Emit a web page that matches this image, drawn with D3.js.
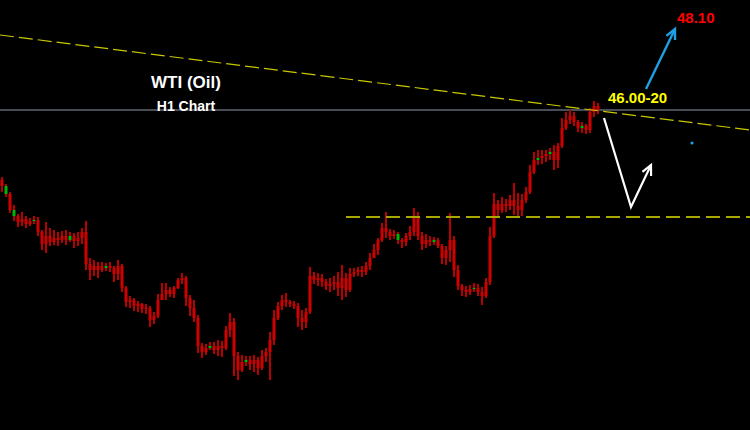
<!DOCTYPE html>
<html lang="en">
<head>
	<meta charset="utf-8" />
	<title>WTI (Oil) H1 Chart</title>
	<style>
		body { margin: 0; padding: 0; background: #000; }
		svg { display: block; }
	</style>
	<script src="https://d3js.org/d3.v7.min.js"></script>
</head>
<body>
	<div id="chart"></div>
	<script>
	// hourly candles
	const open = [
		44.60, 44.48, 44.32, 44.00, 43.88, 43.76, 43.82, 43.72, 43.78, 43.80,
		43.56, 43.32, 43.48, 43.36, 43.44, 43.40, 43.48, 43.40, 43.48, 43.38,
		43.44, 43.56, 42.92, 42.80, 42.88, 42.80, 42.88, 42.84, 42.84, 42.72,
		42.88, 42.44, 42.16, 42.20, 42.08, 42.12, 42.02, 42.04, 41.80, 41.88,
		42.20, 42.32, 42.40, 42.32, 42.44, 42.60, 42.64, 42.24, 42.04, 41.84,
		41.28, 41.16, 41.24, 41.28, 41.20, 41.28, 41.24, 41.60, 41.76, 41.08,
		40.80, 40.96, 41.00, 40.92, 41.00, 40.84, 41.08, 41.16, 41.40, 41.84,
		42.08, 42.20, 42.16, 42.12, 42.08, 41.84, 41.76, 41.96, 42.68, 42.60,
		42.64, 42.56, 42.48, 42.52, 42.56, 42.44, 42.64, 42.40, 42.72, 42.76,
		42.80, 42.76, 42.88, 43.04, 43.20, 43.40, 43.64, 43.56, 43.48, 43.52,
		43.40, 43.36, 43.48, 43.56, 43.88, 43.48, 43.32, 43.40, 43.36, 43.40,
		43.28, 43.04, 43.20, 43.40, 42.80, 42.48, 42.40, 42.36, 42.42, 42.44,
		42.36, 42.28, 42.56, 43.48, 44.12, 44.00, 44.12, 44.08, 44.20, 44.08,
		44.00, 44.20, 44.36, 44.76, 45.00, 45.04, 45.08, 45.12, 45.16, 45.00,
		45.28, 45.64, 45.80, 45.88, 45.76, 45.64, 45.68, 45.60, 45.96, 46.08
	];
	const high = [
		44.66, 44.52, 44.36, 44.10, 43.92, 43.96, 43.88, 43.84, 43.88, 43.86,
		43.60, 43.76, 43.64, 43.60, 43.56, 43.58, 43.60, 43.56, 43.54, 43.56,
		43.64, 43.78, 43.04, 43.00, 42.96, 42.96, 42.94, 42.96, 42.88, 43.00,
		42.92, 42.48, 42.28, 42.24, 42.18, 42.14, 42.12, 42.08, 41.96, 42.32,
		42.54, 42.54, 42.46, 42.48, 42.64, 42.74, 42.68, 42.30, 42.20, 41.90,
		41.34, 41.32, 41.36, 41.36, 41.40, 41.38, 41.68, 41.94, 41.84, 41.16,
		41.10, 41.08, 41.08, 41.10, 41.06, 41.20, 41.24, 41.56, 42.00, 42.16,
		42.30, 42.34, 42.20, 42.18, 42.14, 42.00, 42.04, 42.86, 42.76, 42.74,
		42.72, 42.62, 42.64, 42.68, 42.76, 42.90, 42.74, 42.84, 42.84, 42.86,
		42.88, 42.96, 43.14, 43.32, 43.44, 43.74, 43.96, 43.62, 43.60, 43.56,
		43.44, 43.54, 43.68, 44.04, 43.96, 43.56, 43.52, 43.48, 43.46, 43.44,
		43.32, 43.28, 43.94, 43.48, 42.90, 42.52, 42.48, 42.50, 42.54, 42.52,
		42.46, 42.64, 43.66, 44.34, 44.20, 44.26, 44.22, 44.30, 44.54, 44.34,
		44.32, 44.46, 44.90, 45.16, 45.20, 45.20, 45.20, 45.24, 45.30, 45.34,
		45.84, 45.96, 46.00, 45.96, 45.80, 45.76, 45.72, 46.04, 46.18, 46.14
	];
	const low = [
		44.36, 44.26, 43.94, 43.78, 43.66, 43.68, 43.64, 43.68, 43.72, 43.48,
		43.20, 43.14, 43.28, 43.30, 43.28, 43.34, 43.30, 43.36, 43.24, 43.28,
		43.32, 42.80, 42.60, 42.68, 42.64, 42.76, 42.78, 42.76, 42.56, 42.60,
		42.36, 42.06, 42.04, 41.98, 41.96, 41.94, 41.92, 41.66, 41.72, 41.84,
		42.20, 42.20, 42.26, 42.24, 42.42, 42.52, 42.08, 41.88, 41.76, 41.14,
		41.04, 41.10, 41.20, 41.12, 41.08, 41.06, 41.20, 41.46, 40.68, 40.60,
		40.76, 40.88, 40.80, 40.76, 40.70, 40.80, 40.96, 40.60, 41.30, 41.80,
		42.00, 42.06, 42.06, 42.02, 41.66, 41.60, 41.64, 41.92, 42.52, 42.48,
		42.46, 42.40, 42.36, 42.40, 42.28, 42.20, 42.26, 42.36, 42.66, 42.68,
		42.66, 42.70, 42.80, 43.08, 43.10, 43.36, 43.44, 43.40, 43.42, 43.32,
		43.24, 43.28, 43.40, 43.48, 43.40, 43.20, 43.24, 43.28, 43.30, 43.24,
		42.92, 42.90, 42.96, 42.66, 42.40, 42.28, 42.26, 42.30, 42.36, 42.28,
		42.10, 42.24, 42.50, 43.44, 43.86, 43.94, 43.96, 44.00, 43.90, 43.86,
		43.88, 44.14, 44.32, 44.72, 44.90, 44.92, 44.96, 45.00, 44.80, 44.84,
		45.24, 45.60, 45.72, 45.68, 45.56, 45.54, 45.52, 45.54, 45.86, 45.92
	];
	const close = [
		44.48, 44.32, 44.00, 43.88, 43.76, 43.82, 43.72, 43.78, 43.80, 43.56,
		43.32, 43.48, 43.36, 43.44, 43.40, 43.48, 43.40, 43.48, 43.38, 43.44,
		43.56, 42.92, 42.80, 42.88, 42.80, 42.88, 42.84, 42.88, 42.72, 42.88,
		42.44, 42.16, 42.20, 42.08, 42.12, 42.02, 42.04, 41.80, 41.88, 42.20,
		42.32, 42.40, 42.32, 42.44, 42.60, 42.64, 42.24, 42.04, 41.84, 41.28,
		41.16, 41.24, 41.28, 41.20, 41.28, 41.24, 41.60, 41.76, 41.08, 40.80,
		40.96, 41.00, 40.92, 41.00, 40.84, 41.08, 41.16, 41.40, 41.84, 42.08,
		42.20, 42.16, 42.12, 42.08, 41.84, 41.76, 41.96, 42.68, 42.60, 42.64,
		42.56, 42.48, 42.52, 42.56, 42.44, 42.64, 42.40, 42.72, 42.76, 42.80,
		42.76, 42.88, 43.04, 43.20, 43.40, 43.64, 43.56, 43.48, 43.52, 43.40,
		43.36, 43.48, 43.56, 43.88, 43.48, 43.32, 43.40, 43.36, 43.40, 43.28,
		43.04, 43.20, 43.40, 42.80, 42.48, 42.40, 42.36, 42.42, 42.44, 42.36,
		42.28, 42.56, 43.48, 44.12, 44.00, 44.12, 44.08, 44.20, 44.08, 44.00,
		44.20, 44.36, 44.76, 45.00, 45.04, 45.08, 45.12, 45.16, 45.00, 45.28,
		45.64, 45.80, 45.88, 45.76, 45.64, 45.68, 45.60, 45.96, 46.08, 46.00
	];
	// the few bars that show up green
	const greenBars = [1, 3, 8, 17, 26, 52, 61, 99, 108, 118, 134, 137, 145];

	// levels and drawings (bar index, price)
	const resistance = 46.00;
	const support = 43.86, supportFrom = 86;
	const trendIdx = [-0.5, 187], trendPrice = [47.50, 45.60];
	const downUpIdx = [150.5, 157.25, 162.25], downUpPrice = [45.84, 44.06, 44.90];
	const targetIdx = [161, 168.25], targetPrice = [46.42, 47.62];
	const dotIdx = 172.5, dotPrice = 45.34;
	const zoneLabel = "46.00-20", zoneIdx = 151.5, zonePrice = 46.14;
	const targetLabel = "48.10", targetLabelIdx = 168.75, targetLabelPrice = 47.74;

	const width = 750, height = 430;

	const x = d3.scaleLinear().domain([0, 149]).range([2, 598]);
	const y = d3.scaleLinear().domain([39.6, 48.2]).range([height, 0]);

	const svg = d3.select("#chart")
		.append("svg")
		.attr("width", width)
		.attr("height", height)
		.style("background", "#000");

	// gray price line
	svg.append("line")
		.attr("x1", 0).attr("x2", width)
		.attr("y1", y(resistance)).attr("y2", y(resistance))
		.attr("stroke", "#5f6673")
		.attr("stroke-width", 1.5);

	// title
	svg.append("text")
		.attr("x", 186).attr("y", 88)
		.attr("text-anchor", "middle")
		.attr("fill", "#fff")
		.style("font", "bold 17px 'Liberation Sans', Arial, sans-serif")
		.text("WTI (Oil)");
	svg.append("text")
		.attr("x", 186).attr("y", 111)
		.attr("text-anchor", "middle")
		.attr("fill", "#fff")
		.style("font", "bold 14px 'Liberation Sans', Arial, sans-serif")
		.text("H1 Chart");

	const bars = d3.range(open.length);
	const barColor = i => greenBars.includes(i) ? "#00b400" : "#d00000";

	svg.append("g")
		.selectAll("line")
		.data(bars)
		.join("line")
		.attr("x1", i => x(i)).attr("x2", i => x(i))
		.attr("y1", i => y(high[i])).attr("y2", i => y(low[i]))
		.attr("stroke", "#b80000")
		.attr("stroke-width", 2);

	svg.append("g")
		.selectAll("rect")
		.data(bars)
		.join("rect")
		.attr("x", i => x(i) - 1.5)
		.attr("width", 3)
		.attr("y", i => y(Math.max(open[i], close[i])))
		.attr("height", i => Math.max(1, Math.abs(y(open[i]) - y(close[i]))))
		.attr("fill", barColor);

	// trend line
	svg.append("line")
		.attr("x1", x(trendIdx[0])).attr("y1", y(trendPrice[0]))
		.attr("x2", x(trendIdx[1])).attr("y2", y(trendPrice[1]))
		.attr("stroke", "#c8c800")
		.attr("stroke-width", 1.2)
		.attr("stroke-dasharray", "14,5");

	// support
	svg.append("line")
		.attr("x1", x(supportFrom)).attr("x2", width)
		.attr("y1", y(support)).attr("y2", y(support))
		.attr("stroke", "#a8a800")
		.attr("stroke-width", 1.8)
		.attr("stroke-dasharray", "14,6");

	function arrow(pts, color, w) {
		const line = d3.line().x(d => x(d[0])).y(d => y(d[1]));
		svg.append("path")
			.attr("d", line(pts))
			.attr("fill", "none")
			.attr("stroke", color)
			.attr("stroke-width", w)
			.attr("stroke-linejoin", "miter");
		const a = pts[pts.length - 2], b = pts[pts.length - 1];
		const tx = x(b[0]), ty = y(b[1]);
		const ang = Math.atan2(ty - y(a[1]), tx - x(a[0]));
		const head = [ang + Math.PI - 0.45, ang + Math.PI + 0.45].map(t =>
			[tx + 11 * Math.cos(t), ty + 11 * Math.sin(t)]);
		svg.append("path")
			.attr("d", `M${head[0]}L${tx},${ty}L${head[1]}`)
			.attr("fill", "none")
			.attr("stroke", color)
			.attr("stroke-width", w);
	}

	arrow(downUpIdx.map((d, i) => [d, downUpPrice[i]]), "#fff", 2.2);
	arrow(targetIdx.map((d, i) => [d, targetPrice[i]]), "#1ea0e6", 2.4);

	svg.append("circle")
		.attr("cx", x(dotIdx)).attr("cy", y(dotPrice))
		.attr("r", 1.6)
		.attr("fill", "#1ea0e6");

	svg.append("text")
		.attr("x", x(zoneIdx)).attr("y", y(zonePrice))
		.attr("fill", "#ffff00")
		.style("font", "bold 15px 'Liberation Sans', Arial, sans-serif")
		.text(zoneLabel);

	svg.append("text")
		.attr("x", x(targetLabelIdx)).attr("y", y(targetLabelPrice))
		.attr("fill", "#ff0000")
		.style("font", "bold 15px 'Liberation Sans', Arial, sans-serif")
		.text(targetLabel);
	</script>
</body>
</html>
